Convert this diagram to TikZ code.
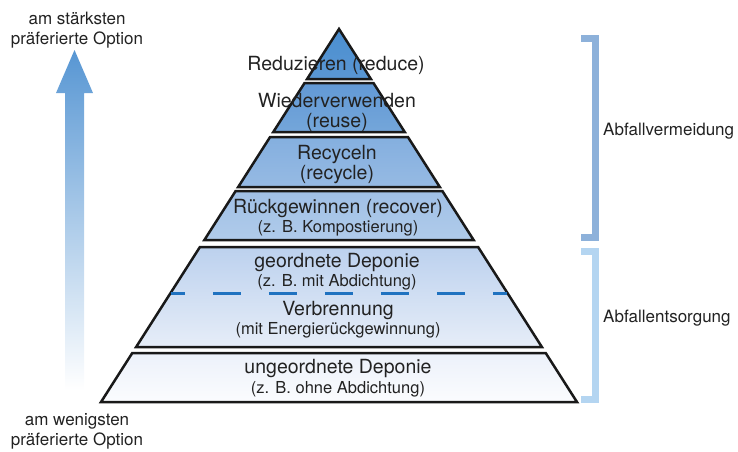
\documentclass[tikz,border=0pt]{standalone}
\usepackage{fontspec}
\setmainfont{TeX Gyre Heros}
\definecolor{txt}{HTML}{222222}
\definecolor{dashblue}{HTML}{1F72C0}
\definecolor{brackA}{HTML}{8DB1DA}
\definecolor{brackB}{HTML}{B4D5F1}
\definecolor{arrowblue}{HTML}{5796D3}
\definecolor{cAt}{HTML}{4A8ED0}\definecolor{cAb}{HTML}{5A97D3}
\definecolor{cBt}{HTML}{6299D5}\definecolor{cBb}{HTML}{74A6DA}
\definecolor{cCt}{HTML}{84AFDF}\definecolor{cCb}{HTML}{96BAE3}
\definecolor{cDt}{HTML}{A0C0E6}\definecolor{cDb}{HTML}{B0CBEA}
\definecolor{cEt}{HTML}{BCD1EE}\definecolor{cEb}{HTML}{E6EDF8}
\definecolor{cFt}{HTML}{ECF1FA}\definecolor{cFb}{HTML}{FBFCFE}
\newcommand\pyrlayer[4]{%
  \pgfmathsetmacro\hwt{0.638*(#1-29)}%
  \pgfmathsetmacro\hwb{0.638*(#2-29)}%
  \draw[layerbox, top color=#3, bottom color=#4]
    (339-\hwt,#1) -- (339+\hwt,#1) -- (339+\hwb,#2) -- (339-\hwb,#2) -- cycle;}
\begin{document}
\begin{tikzpicture}[x=1pt,y=-1pt,
  layerbox/.style={draw=black!90, line width=2.5pt, line join=miter},
  mainlbl/.style={anchor=base, inner sep=0pt, text=txt, font=\fontsize{19.5}{20}\selectfont},
  sublbl/.style={anchor=base, inner sep=0pt, text=txt, font=\fontsize{16.5}{17}\selectfont},
  sidelbl/.style={anchor=base, inner sep=0pt, text=txt, font=\fontsize{17}{18}\selectfont},
  bracket/.style={line width=6.5pt, line join=miter, line cap=butt}]
\path[use as bounding box] (0,0) rectangle (738,451);

% left arrow
\path[top color=arrowblue, bottom color=white]
  (65,390) -- (65,93) -- (56,93) -- (74.5,50) -- (93,93) -- (84,93) -- (84,390) -- cycle;

% pyramid
\pgfmathsetmacro\hwb{0.638*(79-29)}
\draw[layerbox, top color=cAt, bottom color=cAb]
  (339,29) -- (339+\hwb,79) -- (339-\hwb,79) -- cycle;
\pyrlayer{83}{132}{cBt}{cBb}
\pyrlayer{137}{187}{cCt}{cCb}
\pyrlayer{191}{240}{cDt}{cDb}
\pyrlayer{247}{347}{cEt}{cEb}
\pyrlayer{353}{402}{cFt}{cFb}

\pgfmathsetmacro\hwd{0.638*(293-29)}
\coordinate (dl) at (339-\hwd,293);
\coordinate (dr) at (339+\hwd,293);
\draw[dashblue, line width=3pt, dash pattern=on 28pt off 28pt, dash phase=13.6pt] (dl) -- (dr);

% pyramid labels
\node[mainlbl] (reduce) at (336,70) {Reduzieren (reduce)};
\node[mainlbl] (reuse1) at (337,107) {Wiederverwenden};
\node[mainlbl] (reuse2) at (337,127) {(reuse)};
\node[mainlbl] (recyc1) at (337,159) {Recyceln};
\node[mainlbl] (recyc2) at (337,179) {(recycle)};
\node[mainlbl] (recov1) at (338,213) {Rückgewinnen (recover)};
\node[sublbl]  (recov2) at (338,232) {(z. B. Kompostierung)};
\node[mainlbl] (geo1) at (337,267) {geordnete Deponie};
\node[sublbl]  (geo2) at (337,286) {(z. B. mit Abdichtung)};
\node[mainlbl] (verb1) at (338,315) {Verbrennung};
\node[sublbl]  (verb2) at (338,334) {(mit Energierückgewinnung)};
\node[mainlbl] (ung1) at (338,373) {ungeordnete Deponie};
\node[sublbl]  (ung2) at (338,393) {(z. B. ohne Abdichtung)};

% left labels
\node[sidelbl] (top1) at (77,24) {am stärksten};
\node[sidelbl] (top2) at (77,44) {präferierte Option};
\node[sidelbl] (bot1) at (77,425) {am wenigsten};
\node[sidelbl] (bot2) at (77,445) {präferierte Option};

% brackets
\draw[bracket, brackA] (581,38.5) -- (595.5,38.5) -- (595.5,237.5) -- (581,237.5);
\draw[bracket, brackB] (581,251.5) -- (595.5,251.5) -- (595.5,399.5) -- (581,399.5);
\node[sidelbl, anchor=base west] (verm) at (603,135) {Abfallvermeidung};
\node[sidelbl, anchor=base west] (ents) at (603,322) {Abfallentsorgung};
\end{tikzpicture}
\end{document}
